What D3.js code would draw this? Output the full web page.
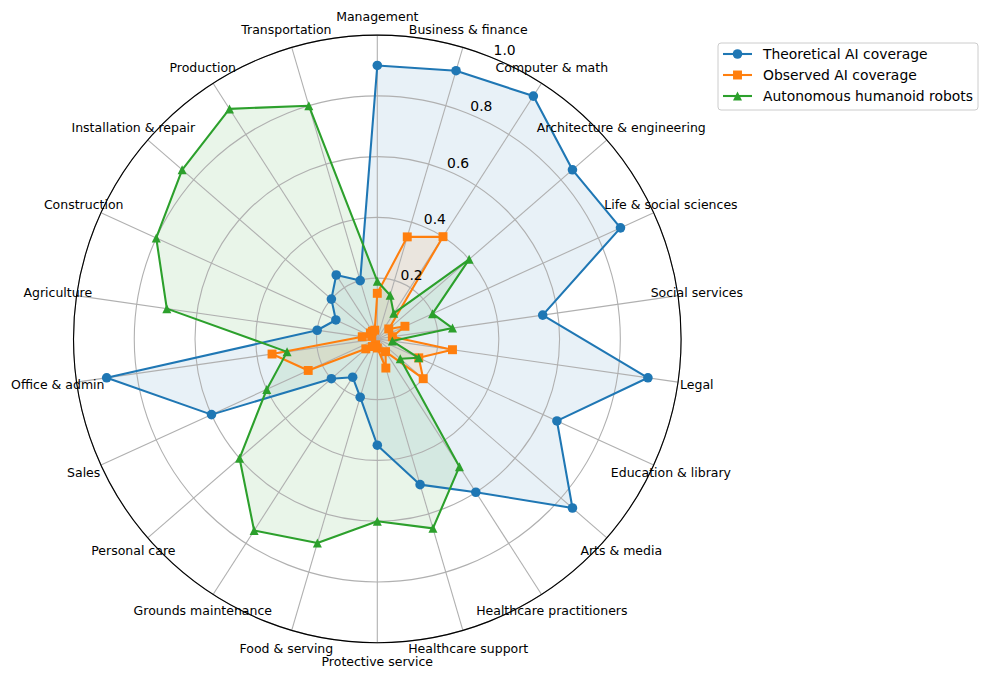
<!DOCTYPE html>
<html>
<head>
<meta charset="utf-8">
<script src="https://cdn.jsdelivr.net/npm/d3@7"></script>
<style>
	body { margin: 0; background: #fff; }
	text { font-family: "DejaVu Sans", sans-serif; fill: #000; }
</style>
</head>
<body>
<svg id="chart" width="987" height="679"></svg>
<script>
var categories = ["Management", "Business & finance", "Computer & math", "Architecture & engineering",
	"Life & social sciences", "Social services", "Legal", "Education & library", "Arts & media",
	"Healthcare practitioners", "Healthcare support", "Protective service", "Food & serving",
	"Grounds maintenance", "Personal care", "Sales", "Office & admin", "Agriculture", "Construction",
	"Installation & repair", "Production", "Transportation"];

var theoretical = [0.90, 0.92, 0.95, 0.85, 0.88, 0.55, 0.90, 0.65, 0.85, 0.60, 0.50, 0.35,
	0.20, 0.15, 0.20, 0.60, 0.90, 0.20, 0.15, 0.20, 0.25, 0.20];
var observed = [0.15, 0.35, 0.40, 0.05, 0.10, 0.05, 0.25, 0.15, 0.20, 0.05, 0.10, 0.03,
	0.02, 0.03, 0.05, 0.25, 0.35, 0.05, 0.02, 0.03, 0.03, 0.03];
var robots = [0.19, 0.15, 0.10, 0.40, 0.20, 0.25, 0.05, 0.15, 0.10, 0.50, 0.65, 0.60,
	0.70, 0.75, 0.60, 0.40, 0.30, 0.70, 0.80, 0.85, 0.90, 0.80];

var seriesNames = ["Theoretical AI coverage", "Observed AI coverage", "Autonomous humanoid robots"];
var radialTicks = [0.2, 0.4, 0.6, 0.8, 1.0];

window.addEventListener("load", function () {
	var svg = d3.select("#chart");
	var cx = 377.3, cy = 338.9, radius = 303.8;

	var r = d3.scaleLinear().domain([0, 1]).range([0, radius]);
	var angle = d3.scaleLinear().domain([0, categories.length]).range([0, 2 * Math.PI]);

	// matplotlib-ish triangle marker (as tall as it is wide)
	var triangle = {
		draw: function(ctx, size) {
			var h = Math.sqrt(size) / 2;
			ctx.moveTo(0, -h);
			ctx.lineTo(h, h);
			ctx.lineTo(-h, h);
			ctx.closePath();
		}
	};

	var series = [
		{ name: seriesNames[0], values: theoretical, color: "#1f77b4", symbol: d3.symbolCircle, size: 72 },
		{ name: seriesNames[1], values: observed, color: "#ff7f0e", symbol: d3.symbolSquare, size: 80 },
		{ name: seriesNames[2], values: robots, color: "#2ca02c", symbol: triangle, size: 81 }
	];

	var g = svg.append("g").attr("transform", "translate(" + cx + "," + cy + ")");

	var radial = d3.lineRadial()
		.angle(function(d, i) { return angle(i); })
		.radius(function(d) { return r(d); })
		.curve(d3.curveLinearClosed);

	// fills go below the grid
	series.forEach(function(s) {
		g.append("path")
			.attr("d", radial(s.values))
			.attr("fill", s.color)
			.attr("fill-opacity", 0.1)
			.attr("stroke", "none");
	});

	// grid
	var grid = g.append("g").attr("class", "grid");
	grid.selectAll("circle")
		.data(radialTicks)
		.enter().append("circle")
		.attr("r", function(d) { return r(d); })
		.attr("fill", "none")
		.attr("stroke", "#b0b0b0")
		.attr("stroke-width", 1.1);
	grid.selectAll("line")
		.data(categories)
		.enter().append("line")
		.attr("x1", 0).attr("y1", 0)
		.attr("x2", function(d, i) { return d3.pointRadial(angle(i), radius)[0]; })
		.attr("y2", function(d, i) { return d3.pointRadial(angle(i), radius)[1]; })
		.attr("stroke", "#b0b0b0")
		.attr("stroke-width", 1.1);

	// outer spine
	g.append("circle")
		.attr("r", radius)
		.attr("fill", "none")
		.attr("stroke", "#000")
		.attr("stroke-width", 1.1);

	// lines and markers
	series.forEach(function(s) {
		g.append("path")
			.attr("d", radial(s.values))
			.attr("fill", "none")
			.attr("stroke", s.color)
			.attr("stroke-width", 2.08)
			.attr("stroke-linejoin", "round");
		g.append("g").selectAll("path")
			.data(s.values)
			.enter().append("path")
			.attr("transform", function(d, i) {
				var p = d3.pointRadial(angle(i), r(d));
				return "translate(" + p[0] + "," + p[1] + ")";
			})
			.attr("d", d3.symbol().type(s.symbol).size(s.size))
			.attr("fill", s.color);
	});

	// radial tick labels at 22.5 degrees, left / bottom aligned
	g.append("g").selectAll("text")
		.data(radialTicks)
		.enter().append("text")
		.attr("x", function(d) { return d3.pointRadial(Math.PI / 8, r(d))[0]; })
		.attr("y", function(d) { return d3.pointRadial(Math.PI / 8, r(d))[1] - 3; })
		.attr("font-size", "13.9px")
		.text(function(d) { return d3.format(".1f")(d); });

	// category labels
	g.append("g").selectAll("text")
		.data(categories)
		.enter().append("text")
		.attr("x", function(d, i) { return d3.pointRadial(angle(i), radius + 19)[0]; })
		.attr("y", function(d, i) { return d3.pointRadial(angle(i), radius + 19)[1]; })
		.attr("text-anchor", "middle")
		.attr("dominant-baseline", "central")
		.attr("font-size", "12.5px")
		.text(function(d) { return d; });

	// legend
	var legend = svg.append("g").attr("transform", "translate(718,43)");
	legend.append("rect")
		.attr("width", 260).attr("height", 67)
		.attr("rx", 3)
		.attr("fill", "#fff").attr("fill-opacity", 0.8)
		.attr("stroke", "#cccccc").attr("stroke-width", 1);
	series.forEach(function(s, i) {
		var row = legend.append("g").attr("transform", "translate(0," + (11 + i * 21) + ")");
		row.append("line")
			.attr("x1", 5).attr("x2", 34)
			.attr("stroke", s.color).attr("stroke-width", 2.08);
		row.append("path")
			.attr("transform", "translate(19.5,0)")
			.attr("d", d3.symbol().type(s.symbol).size(s.size))
			.attr("fill", s.color);
		row.append("text")
			.attr("x", 45)
			.attr("dominant-baseline", "central")
			.attr("font-size", "13.9px")
			.text(s.name);
	});
});
</script>
</body>
</html>
